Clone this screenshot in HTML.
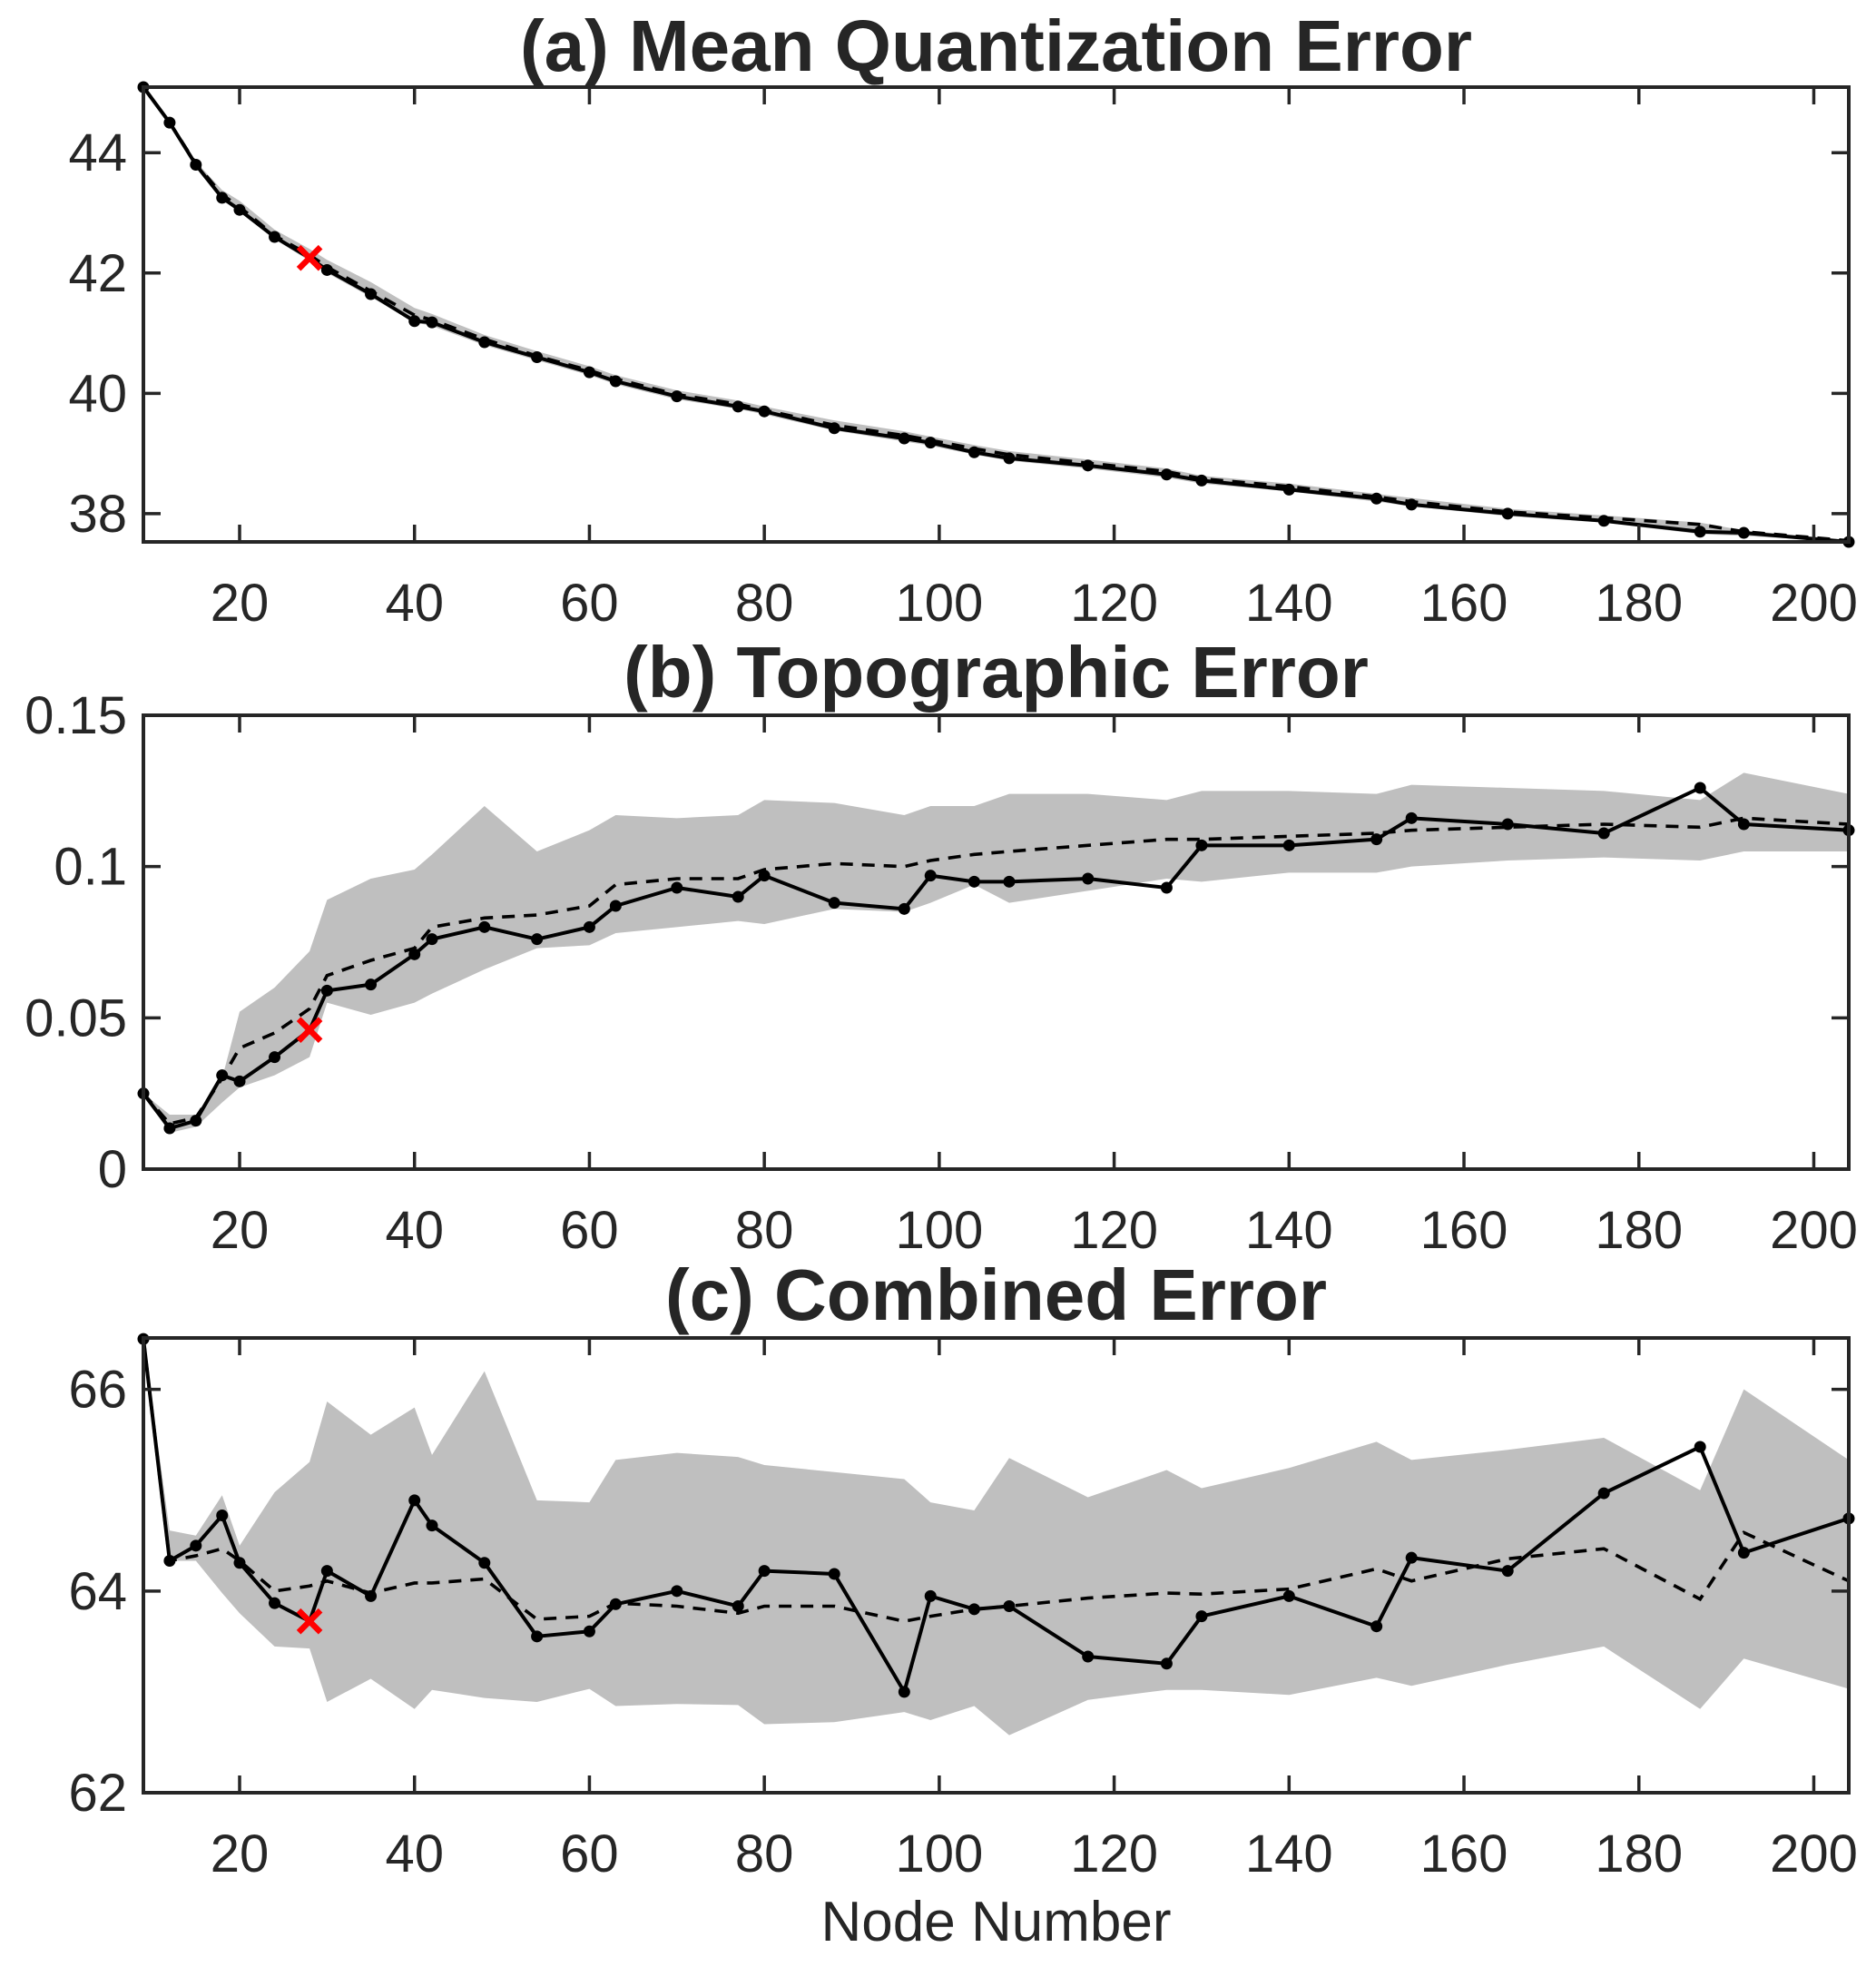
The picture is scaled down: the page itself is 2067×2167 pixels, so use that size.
<!DOCTYPE html>
<html><head><meta charset="utf-8"><style>
html,body{margin:0;padding:0;background:#fff;}
svg text{font-family:"Liberation Sans",Arial,sans-serif;fill:#262626;}
</style></head><body>
<svg id="chart" width="2067" height="2162" viewBox="0 0 2067 2162" xmlns="http://www.w3.org/2000/svg"></svg>
<script>
const nodes=[9,12,15,18,20,24,28,30,35,40,42,48,54,60,63,70,77,80,88,96,99,104,108,117,126,130,140,150,154,165,176,187,192,204];
const xTicks=[20,40,60,80,100,120,140,160,180,200];
const aSolid=[45.09,44.5,43.8,43.25,43.05,42.6,42.25,42.05,41.65,41.2,41.18,40.85,40.6,40.35,40.2,39.95,39.78,39.7,39.42,39.25,39.18,39.02,38.92,38.8,38.65,38.55,38.4,38.25,38.15,38.0,37.88,37.7,37.68,37.53];
const aMean=[45.09,44.5,43.82,43.3,43.1,42.62,42.3,42.1,41.7,41.3,41.22,40.9,40.62,40.38,40.24,39.98,39.82,39.72,39.47,39.3,39.22,39.08,38.98,38.84,38.7,38.58,38.45,38.28,38.2,38.03,37.93,37.82,37.7,37.55];
const aUpper=[45.09,44.5,43.85,43.38,43.2,42.72,42.4,42.22,41.85,41.42,41.32,40.97,40.7,40.45,40.3,40.05,39.88,39.78,39.55,39.37,39.28,39.14,39.04,38.9,38.75,38.63,38.5,38.33,38.26,38.08,37.97,37.85,37.72,37.56];
const aLower=[45.09,44.5,43.78,43.22,43.02,42.56,42.2,42.0,41.6,41.18,41.12,40.8,40.55,40.3,40.15,39.9,39.74,39.65,39.38,39.2,39.13,38.98,38.88,38.75,38.6,38.5,38.37,38.2,38.12,37.96,37.85,37.66,37.63,37.53];
const aYTicks=[38,40,42,44];
const bSolid=[0.025,0.0135,0.016,0.031,0.029,0.037,0.046,0.059,0.061,0.071,0.076,0.080,0.076,0.080,0.087,0.093,0.090,0.097,0.088,0.086,0.097,0.095,0.095,0.096,0.093,0.107,0.107,0.109,0.116,0.114,0.111,0.126,0.114,0.112];
const bMean=[0.025,0.015,0.017,0.03,0.04,0.045,0.053,0.064,0.069,0.073,0.08,0.083,0.084,0.087,0.094,0.096,0.096,0.099,0.101,0.1,0.102,0.104,0.105,0.107,0.109,0.109,0.11,0.111,0.112,0.113,0.114,0.113,0.116,0.114];
const bUpper=[0.025,0.018,0.018,0.03,0.052,0.06,0.072,0.089,0.096,0.099,0.104,0.12,0.105,0.112,0.117,0.116,0.117,0.122,0.121,0.117,0.12,0.12,0.124,0.124,0.122,0.125,0.125,0.124,0.127,0.126,0.125,0.122,0.131,0.124];
const bLower=[0.025,0.012,0.014,0.022,0.027,0.031,0.037,0.055,0.051,0.055,0.058,0.066,0.073,0.074,0.078,0.08,0.082,0.081,0.086,0.085,0.088,0.094,0.088,0.092,0.096,0.095,0.098,0.098,0.1,0.102,0.103,0.102,0.105,0.105];
const bYTicks=[0,0.05,0.1,0.15];
const bYLabels=["0","0.05","0.1","0.15"];
const cSolid=[66.5,64.3,64.45,64.75,64.28,63.88,63.7,64.2,63.95,64.9,64.65,64.28,63.55,63.6,63.87,64.0,63.85,64.2,64.17,63.0,63.95,63.82,63.85,63.35,63.28,63.75,63.95,63.65,64.33,64.2,64.97,65.43,64.38,64.72];
const cMean=[66.5,64.3,64.35,64.42,64.3,64.0,64.05,64.1,63.98,64.08,64.08,64.12,63.72,63.75,63.88,63.85,63.78,63.85,63.85,63.7,63.75,63.82,63.85,63.93,63.98,63.97,64.02,64.22,64.1,64.32,64.42,63.92,64.58,64.1];
const cUpper=[66.5,64.6,64.55,64.95,64.45,64.98,65.28,65.88,65.55,65.82,65.35,66.18,64.9,64.88,65.3,65.37,65.33,65.25,65.18,65.11,64.88,64.8,65.32,64.93,65.2,65.02,65.22,65.48,65.3,65.4,65.52,65.0,66.0,65.3];
const cLower=[66.5,64.3,64.3,63.98,63.78,63.45,63.43,62.9,63.13,62.83,63.02,62.94,62.9,63.03,62.86,62.88,62.87,62.68,62.7,62.8,62.72,62.86,62.57,62.92,63.02,63.02,62.97,63.14,63.06,63.27,63.45,62.83,63.33,63.03];
const cYTicks=[62,64,66];
const bestNode=28;

const svg=document.getElementById('chart');
const NS='http://www.w3.org/2000/svg';
const X0=158,X1=2037,XMIN=9,XMAX=204;
function xs(v){return X0+(v-XMIN)/(XMAX-XMIN)*(X1-X0);}
function mk(tag,attrs,parent){const e=document.createElementNS(NS,tag);for(const k in attrs)e.setAttribute(k,attrs[k]);(parent||svg).appendChild(e);return e;}

const panels=[
 {key:'a',title:'(a) Mean Quantization Error',top:96,bot:597,ymin:37.53,ymax:45.09,solid:aSolid,mean:aMean,up:aUpper,lo:aLower,yt:aYTicks,yl:aYTicks.map(String),tY:78},
 {key:'b',title:'(b) Topographic Error',top:788,bot:1288,ymin:0,ymax:0.15,solid:bSolid,mean:bMean,up:bUpper,lo:bLower,yt:bYTicks,yl:bYLabels,tY:768},
 {key:'c',title:'(c) Combined Error',top:1474,bot:1975,ymin:62,ymax:66.51,solid:cSolid,mean:cMean,up:cUpper,lo:cLower,yt:cYTicks,yl:cYTicks.map(String),tY:1454}
];
panels.forEach(p=>{
 const g=mk('g',{});
 
 
 const ys=v=>p.bot-(v-p.ymin)/(p.ymax-p.ymin)*(p.bot-p.top);
 let pts=nodes.map((n,i)=>xs(n)+','+ys(p.up[i]));
 pts=pts.concat(nodes.map((n,i)=>xs(n)+','+ys(p.lo[i])).reverse());
 const band=mk('polygon',{points:pts.join(' '),fill:'#bfbfbf',stroke:'none'},g);
 
 
 const dl=mk('polyline',{points:nodes.map((n,i)=>xs(n)+','+ys(p.mean[i])).join(' '),fill:'none',stroke:'#000','stroke-width':3.6,'stroke-dasharray':'14 10'},g);
 
 
 const sl=mk('polyline',{points:nodes.map((n,i)=>xs(n)+','+ys(p.solid[i])).join(' '),fill:'none',stroke:'#000','stroke-width':4,'stroke-linejoin':'round'},g);
 
 
 nodes.forEach((n,i)=>{
  if(n===bestNode) return;
  const c=mk('circle',{cx:xs(n),cy:ys(p.solid[i]),r:6.5,fill:'#000'},g);
  
  
 });
 const bi=nodes.indexOf(bestNode);
 const bx=xs(bestNode),by=ys(p.solid[bi]),s=12;
 const xm=mk('path',{d:`M${bx-s},${by-s}L${bx+s},${by+s}M${bx-s},${by+s}L${bx+s},${by-s}`,stroke:'#ff0000','stroke-width':6.5,fill:'none'},g);
 
 
 const box=mk('rect',{x:X0,y:p.top,width:X1-X0,height:p.bot-p.top,fill:'none',stroke:'#262626','stroke-width':4},g);
 
 
 xTicks.forEach(t=>{
  const x=xs(t);
  mk('line',{x1:x,y1:p.bot,x2:x,y2:p.bot-19,stroke:'#262626','stroke-width':3.5},g);
  mk('line',{x1:x,y1:p.top,x2:x,y2:p.top+19,stroke:'#262626','stroke-width':3.5},g);
  const tx=mk('text',{x:x,y:p.bot+87,'font-size':58,'text-anchor':'middle'},g);
  tx.textContent=t;
  
  
 });
 p.yt.forEach((t,i)=>{
  const y=ys(t);
  mk('line',{x1:X0,y1:y,x2:X0+19,y2:y,stroke:'#262626','stroke-width':3.5},g);
  mk('line',{x1:X1,y1:y,x2:X1-19,y2:y,stroke:'#262626','stroke-width':3.5},g);
  const ty=mk('text',{x:X0-18,y:y+20,'font-size':58,'text-anchor':'end'},g);
  ty.textContent=p.yl[i];
  
  
 });
 const tt=mk('text',{x:(X0+X1)/2,y:p.tY,'font-size':80,'font-weight':'bold','text-anchor':'middle',fill:'#000'},g);
 tt.textContent=p.title;
 
 
});
const xl=mk('text',{x:(X0+X1)/2,y:2138,'font-size':62,'text-anchor':'middle'});
xl.textContent='Node Number';


</script>
</body></html>
